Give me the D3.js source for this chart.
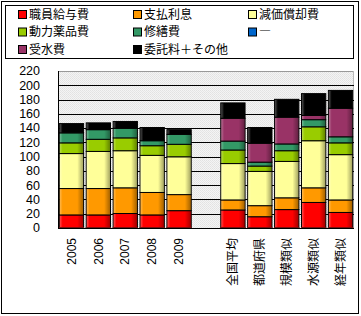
<!DOCTYPE html>
<html>
<head>
<meta charset="utf-8">
<script src="https://cdn.jsdelivr.net/npm/d3@7"></script>
<style>
  body { margin: 0; background: #fff; }
  text { font-family: "Liberation Sans", Arial, sans-serif; }
  .jp { font-family: "Noto Sans CJK JP", sans-serif; }
</style>
</head>
<body>
<svg id="chart"></svg>
<script>
var width = 361, height = 316;

// categories (blank slot between the yearly and comparison groups)
var categories = ["2005", "2006", "2007", "2008", "2009", "", "全国平均", "都道府県", "規模類似", "水源類似", "経年類似"];

// series, bottom to top
var seriesNames = ["職員給与費", "支払利息", "減価償却費", "動力薬品費", "修繕費", "―", "受水費", "委託料＋その他"];
var seriesColors = ["#ff0000", "#ff9900", "#ffff99", "#99cc00", "#339966", "#0066cc", "#993366", "#000000"];

var salary    = [19, 19, 21, 19, 25, 0, 26, 16.5, 26.5, 36.5, 22.5];
var interest  = [37, 37, 36, 31.5, 22.5, 0, 14, 15.5, 16.5, 20.5, 17.5];
var deprec    = [49, 52, 52, 52, 53, 0, 51, 48, 51, 66, 63.5];
var power     = [15, 17, 18, 13.5, 17.5, 0, 19, 7.5, 15, 19.5, 16.5];
var repair    = [14, 13.5, 13.5, 7, 14, 0, 12.5, 5.5, 9.5, 10, 8.5];
var dash      = [0, 0, 0, 0, 0, 0, 0, 0, 0, 0, 0];
var water     = [0, 0, 0, 0, 0, 0, 32, 26.5, 37.5, 6, 40];
var other     = [13, 9.5, 9.5, 18.5, 6.5, 0, 21.5, 22, 25, 30.5, 25];

var yTicks = [0, 20, 40, 60, 80, 100, 120, 140, 160, 180, 200, 220];

var seriesValues = [salary, interest, deprec, power, repair, dash, water, other];

var rows = categories.map(function(c, i) {
  var r = { cat: i };
  seriesNames.forEach(function(s, j) { r[s] = seriesValues[j][i]; });
  return r;
});

var svg = d3.select("#chart").attr("width", width).attr("height", height);

var defs = svg.append("defs");
var pat = defs.append("pattern").attr("id", "dots")
    .attr("width", 2).attr("height", 2).attr("patternUnits", "userSpaceOnUse");
pat.append("rect").attr("width", 2).attr("height", 2).attr("fill", "#f4f4f4");
pat.append("rect").attr("width", 1).attr("height", 1).attr("fill", "#e2e2e2");
pat.append("rect").attr("x", 1).attr("y", 1).attr("width", 1).attr("height", 1).attr("fill", "#e6e6e6");

var shade = defs.append("linearGradient").attr("id", "shade");
shade.append("stop").attr("offset", "0%").attr("stop-color", "#fff").attr("stop-opacity", 0.3);
shade.append("stop").attr("offset", "12%").attr("stop-color", "#fff").attr("stop-opacity", 0);
shade.append("stop").attr("offset", "75%").attr("stop-color", "#000").attr("stop-opacity", 0);
shade.append("stop").attr("offset", "100%").attr("stop-color", "#000").attr("stop-opacity", 0.35);

// outer frame
svg.append("rect").attr("x", 1.5).attr("y", 1.5).attr("width", 357).attr("height", 312)
    .attr("fill", "none").attr("stroke", "#000");

// legend
svg.append("rect").attr("x", 5.5).attr("y", 5.5).attr("width", 348).attr("height", 53)
    .attr("fill", "#fff").attr("stroke", "#000");
var legend = svg.append("g").selectAll("g").data(seriesNames).enter().append("g")
    .attr("transform", function(d, i) {
      return "translate(" + (18 + (i % 3) * 115) + "," + (14 + Math.floor(i / 3) * 17.5) + ")";
    });
legend.append("rect").attr("x", 0.5).attr("y", -3.5).attr("width", 8).attr("height", 8)
    .attr("fill", function(d, i) { return seriesColors[i]; }).attr("stroke", "#000");
legend.append("text").attr("class", "jp").attr("x", 11).attr("y", 0.5)
    .attr("dy", "0.35em").attr("font-size", 12).attr("fill", "#000")
    .text(function(d) { return d; });

// plot
var plotLeft = 58, plotRight = 354, plotTop = 71, plotBottom = 228;

var x = d3.scaleBand().domain(d3.range(categories.length))
    .range([plotLeft, plotRight]).paddingInner(0.06).paddingOuter(0.03);
var y = d3.scaleLinear().domain([0, 220]).range([plotBottom, plotTop]);

svg.append("rect").attr("x", plotLeft).attr("y", plotTop)
    .attr("width", plotRight - plotLeft).attr("height", plotBottom - plotTop)
    .attr("fill", "url(#dots)");
svg.append("line").attr("x1", plotLeft).attr("x2", plotRight)
    .attr("y1", plotTop + 0.5).attr("y2", plotTop + 0.5).attr("stroke", "#999");
svg.append("line").attr("x1", plotRight - 0.5).attr("x2", plotRight - 0.5)
    .attr("y1", plotTop).attr("y2", plotBottom).attr("stroke", "#bbb");

svg.append("g").selectAll("line").data(yTicks.filter(function(t) { return t > 0 && t < 220; }))
  .enter().append("line")
    .attr("x1", plotLeft).attr("x2", plotRight)
    .attr("y1", function(d) { return Math.round(y(d)) + 0.5; })
    .attr("y2", function(d) { return Math.round(y(d)) + 0.5; })
    .attr("stroke", "#000");

var stack = d3.stack().keys(seriesNames);
var layers = stack(rows);

var layer = svg.append("g").selectAll("g").data(layers).enter().append("g");
var seg = layer.selectAll("g").data(function(d) {
    var k = d.index;
    return d.filter(function(p) { return p[1] - p[0] > 0; }).map(function(p) { return { p: p, k: k }; });
  }).enter().append("g");
seg.append("rect")
    .attr("x", function(d) { return x(d.p.data.cat) + 0.5; })
    .attr("y", function(d) { return y(d.p[1]) + 0.5; })
    .attr("width", x.bandwidth() - 1)
    .attr("height", function(d) { return y(d.p[0]) - y(d.p[1]); })
    .attr("fill", function(d) { return seriesColors[d.k]; })
    .attr("stroke", "#000").attr("stroke-width", 1);
seg.append("rect")
    .attr("x", function(d) { return x(d.p.data.cat) + 1; })
    .attr("y", function(d) { return y(d.p[1]) + 1; })
    .attr("width", x.bandwidth() - 2)
    .attr("height", function(d) { return Math.max(0, y(d.p[0]) - y(d.p[1]) - 1); })
    .attr("fill", "url(#shade)");

// bottom edge of bars
svg.append("g").selectAll("rect").data(rows.filter(function(r) { return r.cat !== 5; }))
  .enter().append("rect")
    .attr("x", function(d) { return x(d.cat); })
    .attr("y", plotBottom - 1)
    .attr("width", x.bandwidth())
    .attr("height", 2)
    .attr("fill", "#7a1010");

// axes lines
svg.append("line").attr("x1", plotLeft + 0.5).attr("x2", plotLeft + 0.5)
    .attr("y1", plotTop).attr("y2", plotBottom + 1).attr("stroke", "#000");
svg.append("line").attr("x1", plotLeft).attr("x2", plotRight)
    .attr("y1", plotBottom + 0.5).attr("y2", plotBottom + 0.5).attr("stroke", "#000");

// y labels
svg.append("g").selectAll("text").data(yTicks).enter().append("text")
    .attr("x", 40).attr("y", function(d) { return y(d); })
    .attr("dy", "0.35em").attr("text-anchor", "end")
    .attr("font-size", 12.5).attr("fill", "#000")
    .text(function(d) { return d; });

// x labels, rotated
svg.append("g").selectAll("text").data(categories).enter().append("text")
    .attr("class", function(d) { return /\d/.test(d) ? null : "jp"; })
    .attr("transform", function(d, i) {
      return "translate(" + (x(i) + x.bandwidth() / 2) + ",238) rotate(-90)";
    })
    .attr("dy", "0.35em").attr("text-anchor", "end")
    .attr("font-size", 12).attr("fill", "#000")
    .text(function(d) { return d; });
</script>
</body>
</html>
